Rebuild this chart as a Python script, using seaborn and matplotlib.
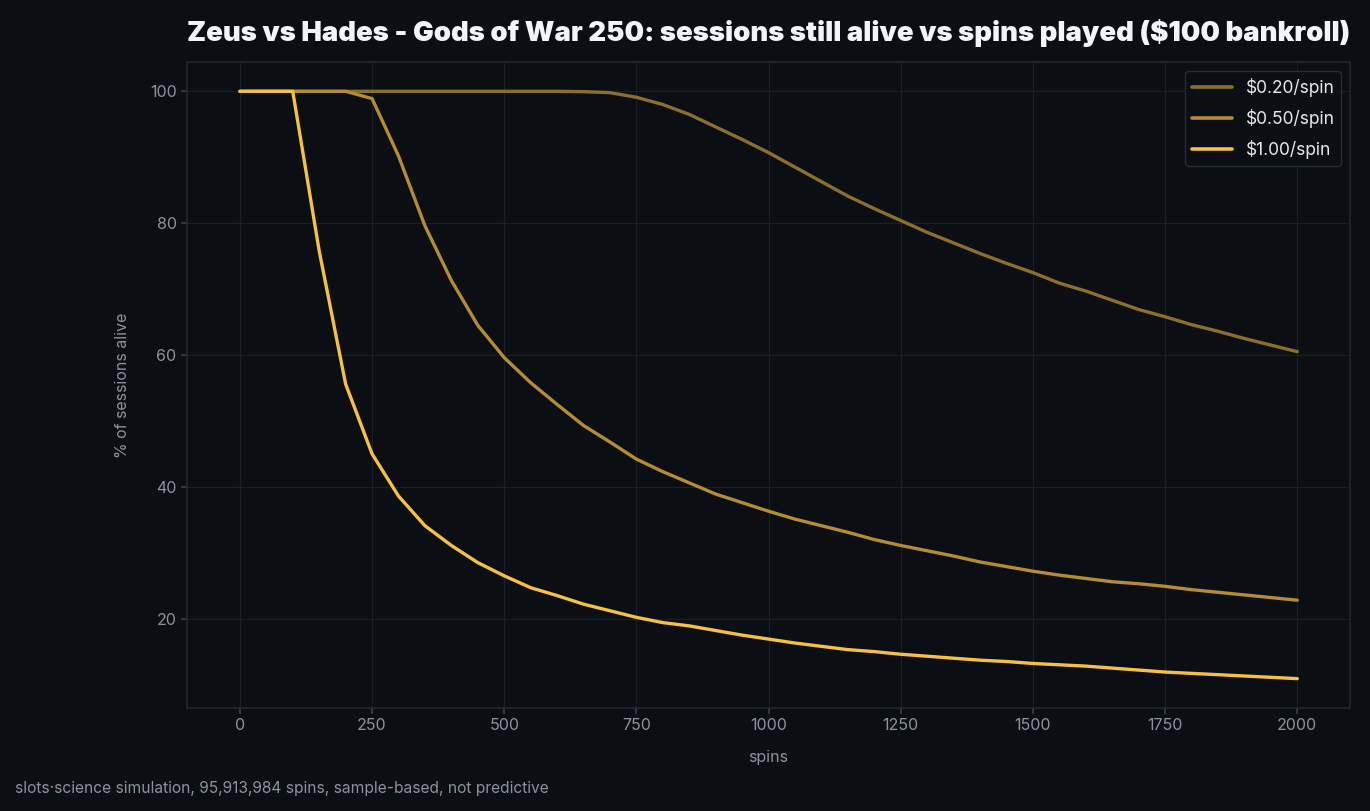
import numpy as np
import matplotlib.pyplot as plt
import pandas as pd
import seaborn as sns

# spins sampled every 50
spins = list(range(0, 2001, 50))

alive_020 = [100, 100, 100, 100, 100, 100, 100, 100, 100, 100,
             100, 100, 100, 99.95, 99.8, 99.1, 98.0, 96.5, 94.6, 92.7,
             90.7, 88.5, 86.3, 84.1, 82.2, 80.4, 78.6, 77.0, 75.4, 73.9,
             72.5, 70.9, 69.7, 68.3, 66.9, 65.8, 64.6, 63.6, 62.5, 61.5,
             60.5]
alive_050 = [100, 100, 100, 100, 100, 98.9, 90.2, 79.6, 71.3, 64.5,
             59.6, 55.8, 52.5, 49.3, 46.8, 44.2, 42.3, 40.6, 38.9, 37.6,
             36.3, 35.1, 34.1, 33.1, 32.0, 31.1, 30.3, 29.5, 28.6, 27.9,
             27.2, 26.6, 26.1, 25.6, 25.3, 24.9, 24.4, 24.0, 23.6, 23.2,
             22.8]
alive_100 = [100, 100, 100, 75.8, 55.6, 45.0, 38.6, 34.1, 31.1, 28.5,
             26.5, 24.7, 23.5, 22.2, 21.2, 20.2, 19.4, 18.9, 18.2, 17.5,
             16.9, 16.3, 15.8, 15.3, 15.0, 14.6, 14.3, 14.0, 13.7, 13.5,
             13.2, 13.0, 12.8, 12.5, 12.2, 11.9, 11.7, 11.5, 11.3, 11.1,
             10.9]

labels = ['$0.20/spin', '$0.50/spin', '$1.00/spin']
colors = ['#8c6f2c', '#b38c34', '#f6c143']

df = pd.DataFrame({
    'spins': spins * 3,
    'alive': alive_020 + alive_050 + alive_100,
    'bet': [labels[0]] * len(spins) + [labels[1]] * len(spins) + [labels[2]] * len(spins),
})

bg = '#0b0e13'
sns.set_theme(style='dark')
plt.rcParams['font.family'] = ['Inter', 'DejaVu Sans']

fig = plt.figure(figsize=(13.7, 8.11), dpi=100, facecolor=bg)
ax = fig.add_axes([0.1365, 0.127, 0.849, 0.7966])
ax.set_facecolor(bg)

sns.lineplot(data=df, x='spins', y='alive', hue='bet', palette=colors,
             linewidth=2.4, ax=ax)

ax.grid(True, color='#1a1f27', linewidth=0.9)
for s in ax.spines.values():
    s.set_color('#222830')
    s.set_linewidth(1.2)
ax.tick_params(colors='#8b949e', labelsize=11.5, length=4, width=1.2,
               bottom=True, left=True)
ax.tick_params(axis='both', color='#3a414b')
ax.set_xticks([0, 250, 500, 750, 1000, 1250, 1500, 1750, 2000])
ax.set_yticks([20, 40, 60, 80, 100])

ax.set_xlabel('spins', color='#8b949e', fontsize=11.5, labelpad=12)
ax.set_ylabel('% of sessions alive', color='#8b949e', fontsize=11.5, labelpad=14)
ax.set_title('Zeus vs Hades - Gods of War 250: sessions still alive vs spins played ($100 bankroll)',
             color='#f2f4f7', fontsize=19.8, fontweight='black', pad=15)

leg = ax.legend(loc='upper right', fontsize=12.5, facecolor=bg, edgecolor='#262c35',
                labelcolor='#e6e8eb', framealpha=1, handlelength=2.3,
                labelspacing=0.7)
for line in leg.get_lines():
    line.set_linewidth(2.6)

fig.text(0.011, 0.022, 'slots·science simulation, 95,913,984 spins, sample-based, not predictive',
         color='#8b949e', fontsize=11.2)

plt.savefig('out.png', dpi=100, facecolor=bg)
